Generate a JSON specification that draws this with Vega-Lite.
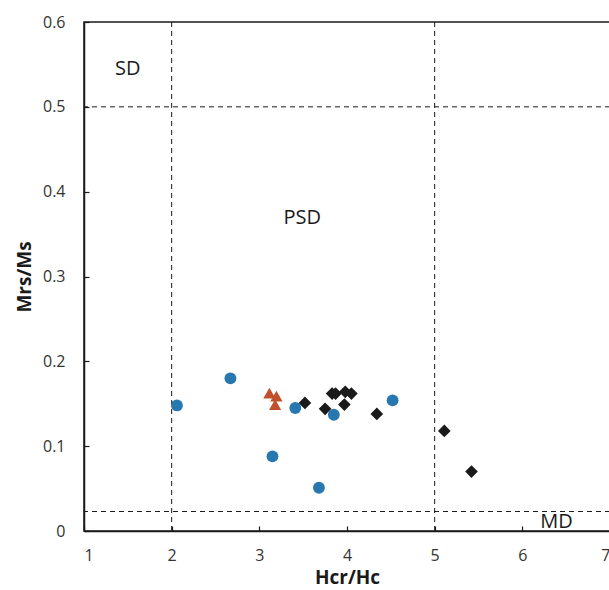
{
  "$schema": "https://vega.github.io/schema/vega-lite/v6.json",
  "width": 526,
  "height": 509,
  "autosize": {"type": "none"},
  "padding": {"left": 84, "top": 22, "right": 0, "bottom": 59},
  "background": "white",
  "config": {
    "view": {"stroke": "#1a1a1a", "strokeWidth": 1.5},
    "font": "Open Sans",
    "axis": {
      "grid": false,
      "domainColor": "#1a1a1a",
      "domainWidth": 1.5,
      "tickColor": "#1a1a1a",
      "tickWidth": 1.2,
      "tickSize": -5,
      "labelFont": "Open Sans",
      "labelFontSize": 16,
      "labelColor": "#333333",
      "titleFont": "Open Sans",
      "titleFontSize": 19,
      "titleFontWeight": "bold",
      "titleColor": "#1a1a1a"
    }
  },
  "datasets": {
    "pts": [
      {"x": 2.06, "y": 0.148, "group": "A"},
      {"x": 2.67, "y": 0.180, "group": "A"},
      {"x": 3.15, "y": 0.088, "group": "A"},
      {"x": 3.41, "y": 0.145, "group": "A"},
      {"x": 3.85, "y": 0.137, "group": "A"},
      {"x": 3.68, "y": 0.051, "group": "A"},
      {"x": 4.52, "y": 0.154, "group": "A"},
      {"x": 3.115, "y": 0.1625, "group": "B"},
      {"x": 3.195, "y": 0.159, "group": "B"},
      {"x": 3.18, "y": 0.149, "group": "B"},
      {"x": 3.52, "y": 0.151, "group": "C"},
      {"x": 3.75, "y": 0.144, "group": "C"},
      {"x": 3.83, "y": 0.162, "group": "C"},
      {"x": 3.87, "y": 0.162, "group": "C"},
      {"x": 3.98, "y": 0.164, "group": "C"},
      {"x": 4.05, "y": 0.162, "group": "C"},
      {"x": 3.97, "y": 0.149, "group": "C"},
      {"x": 4.34, "y": 0.138, "group": "C"},
      {"x": 5.11, "y": 0.118, "group": "C"},
      {"x": 5.42, "y": 0.070, "group": "C"}
    ],
    "vlines": [{"x": 2}, {"x": 5}],
    "hlines": [{"y": 0.5}, {"y": 0.023}],
    "labels": [
      {"x": 1.5, "y": 0.545, "label": "SD"},
      {"x": 3.49, "y": 0.369, "label": "PSD"},
      {"x": 6.39, "y": 0.011, "label": "MD"}
    ]
  },
  "layer": [
    {
      "data": {"name": "vlines"},
      "mark": {"type": "rule", "strokeDash": [5, 4], "color": "#1a1a1a", "strokeWidth": 1},
      "encoding": {
        "x": {"field": "x", "type": "quantitative", "scale": {"domain": [1, 7], "nice": false}}
      }
    },
    {
      "data": {"name": "hlines"},
      "mark": {"type": "rule", "strokeDash": [5, 4], "color": "#1a1a1a", "strokeWidth": 1},
      "encoding": {
        "y": {"field": "y", "type": "quantitative", "scale": {"domain": [0, 0.6], "nice": false}}
      }
    },
    {
      "data": {"name": "labels"},
      "mark": {"type": "text", "fontSize": 20, "font": "Open Sans", "color": "#1a1a1a"},
      "encoding": {
        "x": {"field": "x", "type": "quantitative"},
        "y": {"field": "y", "type": "quantitative"},
        "text": {"field": "label"}
      }
    },
    {
      "data": {"name": "pts"},
      "mark": {"type": "point", "filled": true, "opacity": 1},
      "encoding": {
        "x": {"field": "x", "type": "quantitative", "scale": {"domain": [1, 7], "nice": false},
              "axis": {"title": "Hcr/Hc", "values": [1, 2, 3, 4, 5, 6, 7], "format": "d", "labelPadding": 21, "titlePadding": 5}},
        "y": {"field": "y", "type": "quantitative", "scale": {"domain": [0, 0.6], "nice": false},
              "axis": {"title": "Mrs/Ms", "values": [0, 0.1, 0.2, 0.3, 0.4, 0.5, 0.6], "format": "~g", "labelPadding": 24, "titlePadding": 8}},
        "shape": {"field": "group", "type": "nominal", "legend": null,
                  "scale": {"domain": ["A", "B", "C"], "range": ["circle", "triangle-up", "diamond"]}},
        "color": {"field": "group", "type": "nominal", "legend": null,
                  "scale": {"domain": ["A", "B", "C"], "range": ["#2878b0", "#c0502e", "#1a1a1a"]}},
        "size": {"field": "group", "type": "nominal", "legend": null,
                 "scale": {"domain": ["A", "B", "C"], "range": [140, 160, 230]}}
      }
    }
  ]
}
